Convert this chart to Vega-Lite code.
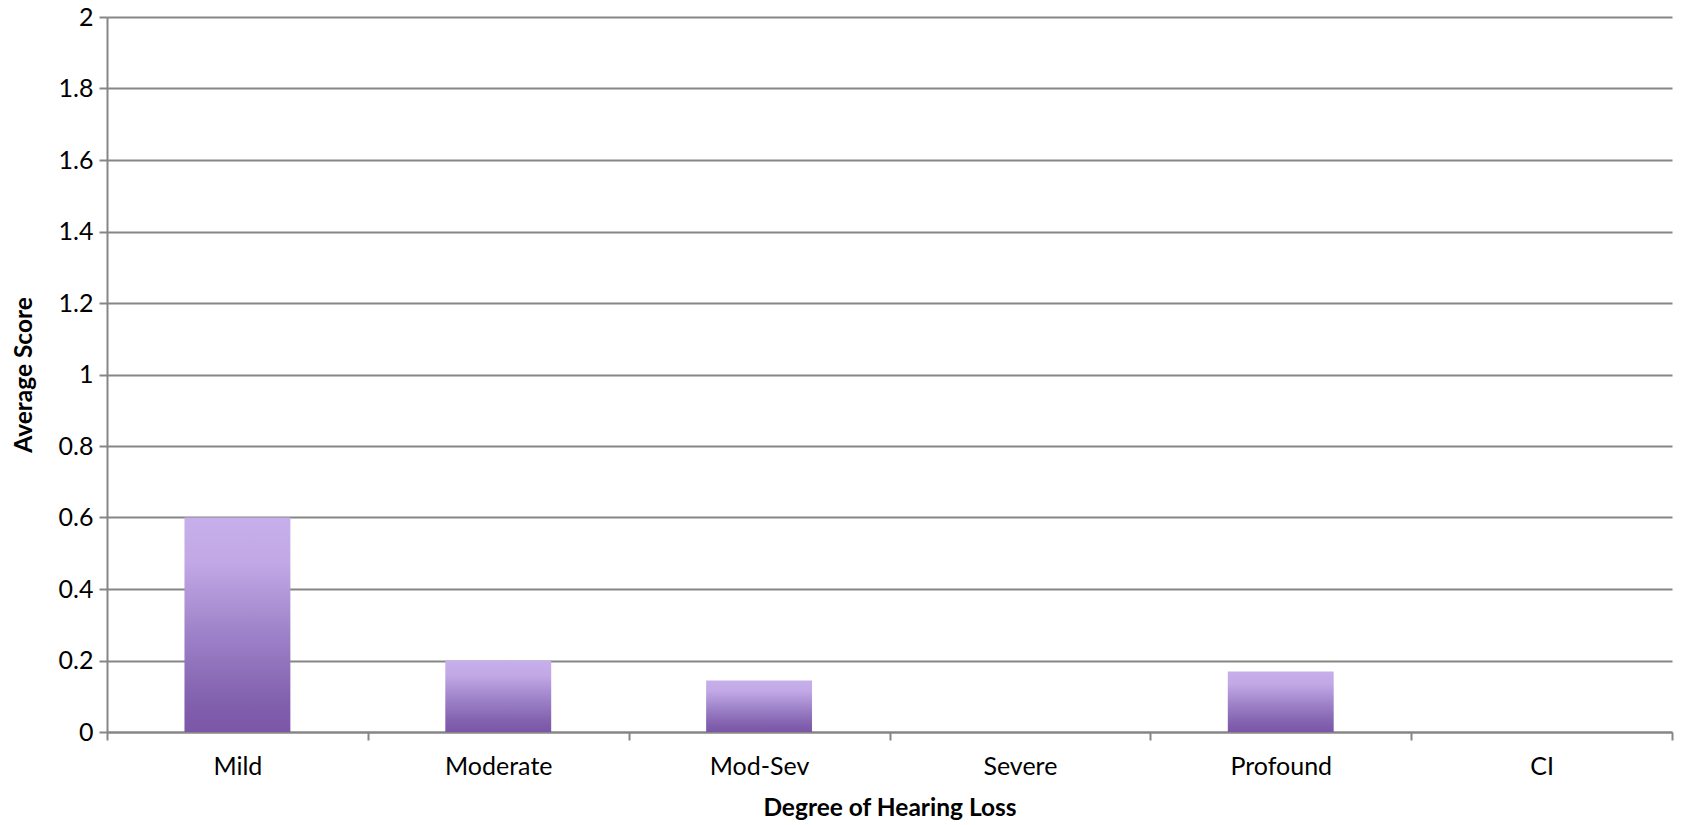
{
  "$schema": "https://vega.github.io/schema/vega-lite/v6.json",
  "width": 1565,
  "height": 715,
  "autosize": {"type": "none"},
  "padding": {"left": 107, "top": 17, "right": 11, "bottom": 93},
  "background": "white",
  "config": {"view": {"stroke": null}, "font": "Lato"},
  "data": {
    "values": [
      {"degree": "Mild", "score": 0.6},
      {"degree": "Moderate", "score": 0.2},
      {"degree": "Mod-Sev", "score": 0.144},
      {"degree": "Severe", "score": 0},
      {"degree": "Profound", "score": 0.169},
      {"degree": "CI", "score": 0}
    ]
  },
  "mark": {
    "type": "bar",
    "width": {"band": 0.406},
    "color": {
      "gradient": "linear",
      "x1": 0, "y1": 0, "x2": 0, "y2": 1,
      "stops": [
        {"offset": 0, "color": "#c6afeb"},
        {"offset": 0.2, "color": "#c2a9e6"},
        {"offset": 0.55, "color": "#9d81c8"},
        {"offset": 0.85, "color": "#8261ae"},
        {"offset": 1, "color": "#7c56a8"}
      ]
    }
  },
  "encoding": {
    "x": {
      "field": "degree",
      "type": "nominal",
      "sort": null,
      "scale": {"paddingInner": 0, "paddingOuter": 0},
      "axis": {
        "title": "Degree of Hearing Loss",
        "titleFont": "Lato",
        "titleFontWeight": "bold",
        "titleFontSize": 24.5,
        "titleColor": "#000000",
        "titlePadding": 17,
        "labelAngle": 0,
        "labelFont": "Lato",
        "labelFontSize": 25,
        "labelColor": "#000000",
        "labelPadding": 14,
        "tickBand": "extent",
        "tickSize": 8,
        "tickColor": "#868686",
        "tickWidth": 2,
        "domainColor": "#868686",
        "domainWidth": 2,
        "grid": false
      }
    },
    "y": {
      "field": "score",
      "type": "quantitative",
      "scale": {"domain": [0, 2], "nice": false},
      "axis": {
        "title": "Average Score",
        "titleFont": "Lato",
        "titleFontWeight": "bold",
        "titleFontSize": 24.5,
        "titleColor": "#000000",
        "titlePadding": 22,
        "values": [0, 0.2, 0.4, 0.6, 0.8, 1, 1.2, 1.4, 1.6, 1.8, 2],
        "format": "~g",
        "labelFont": "Lato",
        "labelFontSize": 25,
        "labelColor": "#000000",
        "labelPadding": 6,
        "labelFlush": false,
        "tickSize": 8,
        "tickColor": "#868686",
        "tickWidth": 2,
        "domainColor": "#868686",
        "domainWidth": 2,
        "grid": true,
        "gridColor": "#868686",
        "gridWidth": 2
      }
    }
  }
}
